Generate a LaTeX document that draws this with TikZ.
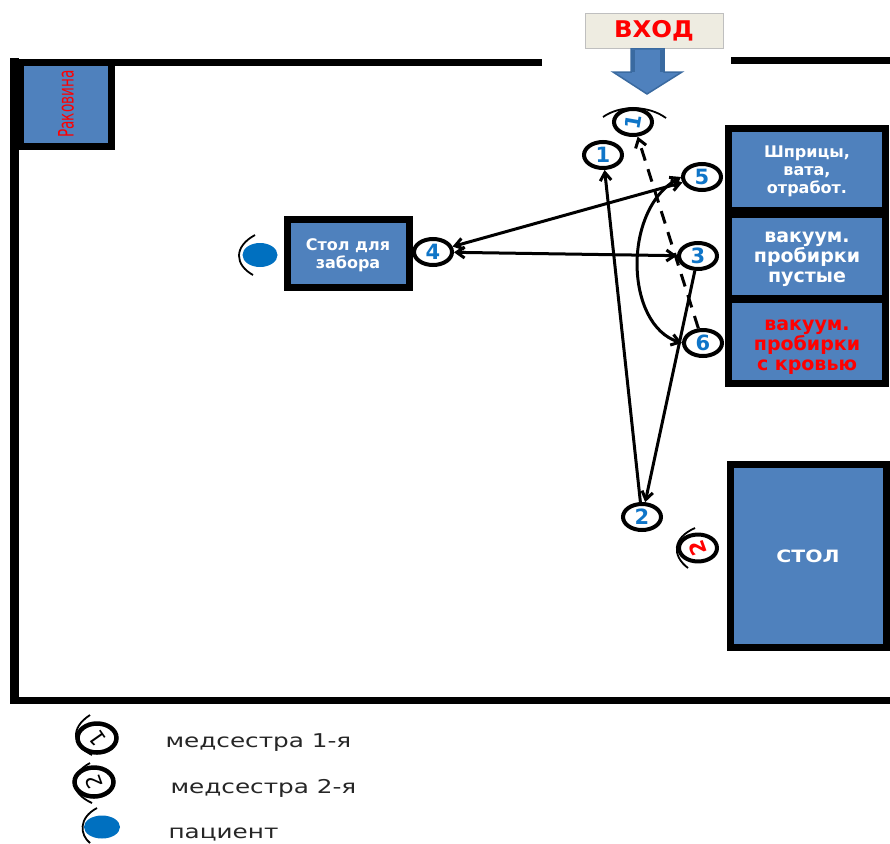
\documentclass[tikz,border=0pt]{standalone}
\usepackage{fontspec}
\setmainfont{DejaVu Sans}
\usetikzlibrary{arrows.meta,shapes.geometric}
\definecolor{boxblue}{HTML}{4F81BD}
\definecolor{darkblue}{HTML}{3A6AA0}
\definecolor{numblue}{HTML}{0F75C8}
\definecolor{patblue}{HTML}{0070C0}
\definecolor{entryfill}{HTML}{EEECE1}
\newcommand{\widetext}[2][1.2]{\scalebox{#1}[1]{#2}}
\newcommand{\lowertext}[1]{\rule{0pt}{#1}}
\tikzset{
	wall/.style={line width=7pt,line cap=square},
	box/.style={draw=black,line width=7pt,fill=boxblue,align=center,text=white,font=\fontsize{16}{18}\selectfont\bfseries},
	bigbox/.style={box,minimum width=157pt,minimum height=84pt,font=\fontsize{19}{20}\selectfont\bfseries},
	stopn/.style={ellipse,draw=black,line width=4pt,fill=white,inner sep=0pt,minimum width=38pt,minimum height=26pt,font=\fontsize{21}{21}\selectfont\bfseries},
	keyn/.style={stopn,line width=4.5pt,minimum width=39pt,minimum height=29pt,font=\fontsize{21}{21}\selectfont},
	face/.style={line width=1.8pt},
	walkline/.style={line width=3pt,{Straight Barb[length=8pt,width=11pt]}-{Straight Barb[length=8pt,width=11pt]}},
	walkone/.style={line width=3pt,-{Straight Barb[length=8pt,width=11pt]}},
	legendtext/.style={anchor=west,font=\fontsize{19}{19}\selectfont,text=black!85}
}
\begin{document}
\begin{tikzpicture}[x=1pt,y=-1pt]
\useasboundingbox (0,0) rectangle (890,843);

% walls
\draw[wall] (542,62) -- (14,62);
\draw[line width=9pt] (14.5,58) -- (14.5,704);
\draw[line width=7pt] (12,700) -- (890,700);
\draw[wall] (731,60) -- (890,60);

% boxes
\node[box,minimum width=91pt,minimum height=84pt,text=red,font=\fontsize{17}{17}\selectfont] (sink) at (66,104) {\rotatebox{90}{\scalebox{0.8}[1.25]{Раковина}}};
\node[box,minimum width=122pt,minimum height=68pt] (drawtable) at (348,253) {\lowertext{17pt}Стол для\\забора};
\node[box,minimum width=157pt,minimum height=82pt] (syringes) at (807,169) {\lowertext{17pt}Шприцы,\\вата,\\отработ.};
\node[bigbox] (empty) at (807,256) {\lowertext{18pt}вакуум.\\пробирки\\пустые};
\node[bigbox,text=red] (blood) at (807,341) {\lowertext{22pt}вакуум.\\пробирки\\с кровью};
\node[box,minimum width=156pt,minimum height=183pt,font=\fontsize{17}{17}\selectfont\bfseries] (table) at (808,556) {\widetext{СТОЛ}};

% entry
\node[fill=entryfill,draw=black!25,line width=0.8pt,minimum width=138pt,minimum height=35pt,text=red,font=\fontsize{23}{23}\selectfont\bfseries] (entry) at (654,31) {\widetext[1.06]{ВХОД}};
\draw[fill=boxblue,draw=darkblue,line width=1.5pt] (631,49) -- (664,49) -- (664,72) -- (682,72) -- (647,94) -- (613,72) -- (631,72) -- cycle;
\foreach \x in {633,662} {
	\draw[darkblue,line width=4pt] (\x,50) -- (\x,72);
}

% stops
\foreach \name/\x/\y/\lab in {stopa/603/155/1,stopb/642/517/2,stopc/698/256/3,stopd/433/252/4,stope/702/177/5,stopf/703/343/6} {
	\node[stopn,text=numblue] (\name) at (\x,\y) {\lab};
}

% nurses and patients
\node[stopn,text=numblue] (nursea) at (633,122) {\rotatebox{80}{1}};
\node[stopn,text=red] (nurseb) at (698,548) {\rotatebox{110}{2}};
\node[keyn] (keya) at (97,738) {\rotatebox{125}{1}};
\node[keyn] (keyb) at (94,782) {\rotatebox{110}{2}};
\node[ellipse,fill=patblue,minimum width=35pt,minimum height=24pt,inner sep=0pt] (patient) at (260,255) {};
\node[ellipse,fill=patblue,minimum width=36pt,minimum height=23pt,inner sep=0pt] (keyc) at (102,827) {};

\draw[face] (603,117) .. controls (620,105) and (648,105) .. (666,118);
\draw[face] (695,528) .. controls (672,538) and (672,556) .. (688,568);
\draw[face] (90,715) .. controls (70,728) and (72,745) .. (92,755);
\draw[face] (90,763) .. controls (68,775) and (70,793) .. (92,803);
\draw[face] (255,235) .. controls (233,247) and (235,265) .. (253,275);
\draw[face] (97,808) .. controls (78,818) and (80,835) .. (90,843);

% legend
\node[legendtext] (keytexta) at (162,743) {\widetext[1.3]{медсестра 1-я}};
\node[legendtext] (keytextb) at (167,788) {\widetext[1.3]{медсестра 2-я}};
\node[legendtext] (keytextc) at (165,834) {\widetext[1.3]{пациент}};

% walking routes
\draw[walkone] (stopb) -- (stopa);
\draw[walkone] (stopc) -- (stopb);
\draw[walkline] (stopd) -- (stope);
\draw[walkline] (stopd) -- (stopc);
\draw[walkline] (stope.west) .. controls (622,210) and (625,325) .. (stopf.west);
\draw[walkone,dashed,dash pattern=on 13pt off 9pt] (stopf) -- (nursea);

\end{tikzpicture}
\end{document}
